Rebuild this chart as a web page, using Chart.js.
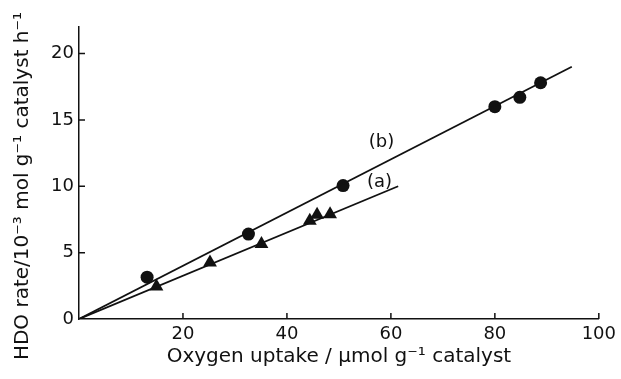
<!DOCTYPE html>
<html>
<head>
<meta charset="utf-8">
<script src="https://cdn.jsdelivr.net/npm/chart.js@4/dist/chart.umd.min.js"></script>
<style>
  html, body { margin: 0; padding: 0; background: #fff; }
  #wrap { width: 621px; height: 379px; }
</style>
</head>
<body>
<div id="wrap"><canvas id="hdoChart"></canvas></div>
<script>
// series (a): triangles, series (b): circles
const uptakeA = [14.9, 25.2, 35.1, 44.4, 45.8, 48.3];
const rateA   = [2.45, 4.25, 5.65, 7.4, 7.85, 7.9];
const uptakeB = [13.1, 32.6, 50.8, 80.0, 84.8, 88.8];
const rateB   = [3.15, 6.4, 10.05, 16.0, 16.7, 17.8];

// fitted straight lines through the origin
const fitA = [[0, 0], [61.4, 10.0]];
const fitB = [[0, 0], [94.8, 19.0]];

const xTicks = [0, 20, 40, 60, 80, 100];
const yTicks = [0, 5, 10, 15, 20];

// line tags, placed in data units
const tags = [
  { text: "(b)", x: 58.2, y: 13.3 },
  { text: "(a)", x: 57.8, y: 10.3 }
];

const yTitle = "HDO rate/10⁻³ mol g⁻¹ catalyst h⁻¹";
const xTitle = "Oxygen uptake / μmol g⁻¹ catalyst";

const FONT = "'DejaVu Sans', sans-serif";

const toPts = (xs, ys) => xs.map((x, i) => ({ x, y: ys[i] }));
const pairPts = arr => arr.map(p => ({ x: p[0], y: p[1] }));

// inward tick marks, rotated y title and line tags
const extras = {
  id: "extras",
  afterDraw(chart) {
    const ctx = chart.ctx;
    const xs = chart.scales.x, ys = chart.scales.y;
    const x0 = xs.getPixelForValue(0), y0 = ys.getPixelForValue(0);
    ctx.save();
    ctx.strokeStyle = "#111";
    ctx.lineWidth = 1.5;
    ctx.beginPath();
    xTicks.forEach(v => {
      if (v === 0) return;
      const px = xs.getPixelForValue(v);
      ctx.moveTo(px, y0);
      ctx.lineTo(px, y0 - 6);
    });
    yTicks.forEach(v => {
      if (v === 0) return;
      const py = ys.getPixelForValue(v);
      ctx.moveTo(x0, py);
      ctx.lineTo(x0 + 6, py);
    });
    ctx.stroke();

    ctx.fillStyle = "#111";
    ctx.font = "18px " + FONT;
    ctx.textAlign = "center";
    ctx.textBaseline = "middle";
    tags.forEach(t => {
      ctx.fillText(t.text, xs.getPixelForValue(t.x), ys.getPixelForValue(t.y));
    });

    ctx.font = "20px " + FONT;
    ctx.translate(23, ys.getPixelForValue(11) + 13);
    ctx.rotate(-Math.PI / 2);
    ctx.fillText(yTitle, 0, 0);
    ctx.restore();
  }
};

const ctx = document.getElementById("hdoChart").getContext("2d");
new Chart(ctx, {
  type: "scatter",
  data: {
    datasets: [
      {
        data: pairPts(fitB),
        showLine: true,
        borderColor: "#111",
        borderWidth: 1.8,
        pointRadius: 0
      },
      {
        data: pairPts(fitA),
        showLine: true,
        borderColor: "#111",
        borderWidth: 1.8,
        pointRadius: 0
      },
      {
        data: toPts(uptakeB, rateB),
        pointStyle: "circle",
        pointRadius: 6.5,
        backgroundColor: "#111",
        borderColor: "#111",
        borderWidth: 0
      },
      {
        data: toPts(uptakeA, rateA),
        pointStyle: "triangle",
        pointRadius: 8,
        backgroundColor: "#111",
        borderColor: "#111",
        borderWidth: 0
      }
    ]
  },
  options: {
    responsive: true,
    maintainAspectRatio: false,
    animation: false,
    layout: { padding: { left: 0, right: 22, top: 27, bottom: 10 } },
    plugins: {
      legend: { display: false },
      tooltip: { enabled: false }
    },
    scales: {
      x: {
        type: "linear",
        min: 0,
        max: 100,
        afterFit: s => { s.height = 50; },
        afterBuildTicks: s => { s.ticks = xTicks.map(v => ({ value: v })); },
        grid: { display: false, drawTicks: false },
        border: { display: true, color: "#111", width: 1.5 },
        ticks: {
          padding: 5,
          color: "#111",
          font: { family: FONT, size: 18 },
          callback: v => (v === 0 ? "" : v)
        },
        title: {
          display: true,
          text: xTitle,
          color: "#111",
          font: { family: FONT, size: 20 },
          padding: { top: 4, bottom: 0 }
        }
      },
      y: {
        type: "linear",
        min: 0,
        max: 22,
        afterFit: s => { s.width = 79; },
        afterBuildTicks: s => { s.ticks = yTicks.map(v => ({ value: v })); },
        grid: { display: false, drawTicks: false },
        border: { display: true, color: "#111", width: 1.5 },
        ticks: {
          padding: 5,
          color: "#111",
          font: { family: FONT, size: 18 }
        },
        title: { display: false }
      }
    }
  },
  plugins: [extras]
});
</script>
</body>
</html>
